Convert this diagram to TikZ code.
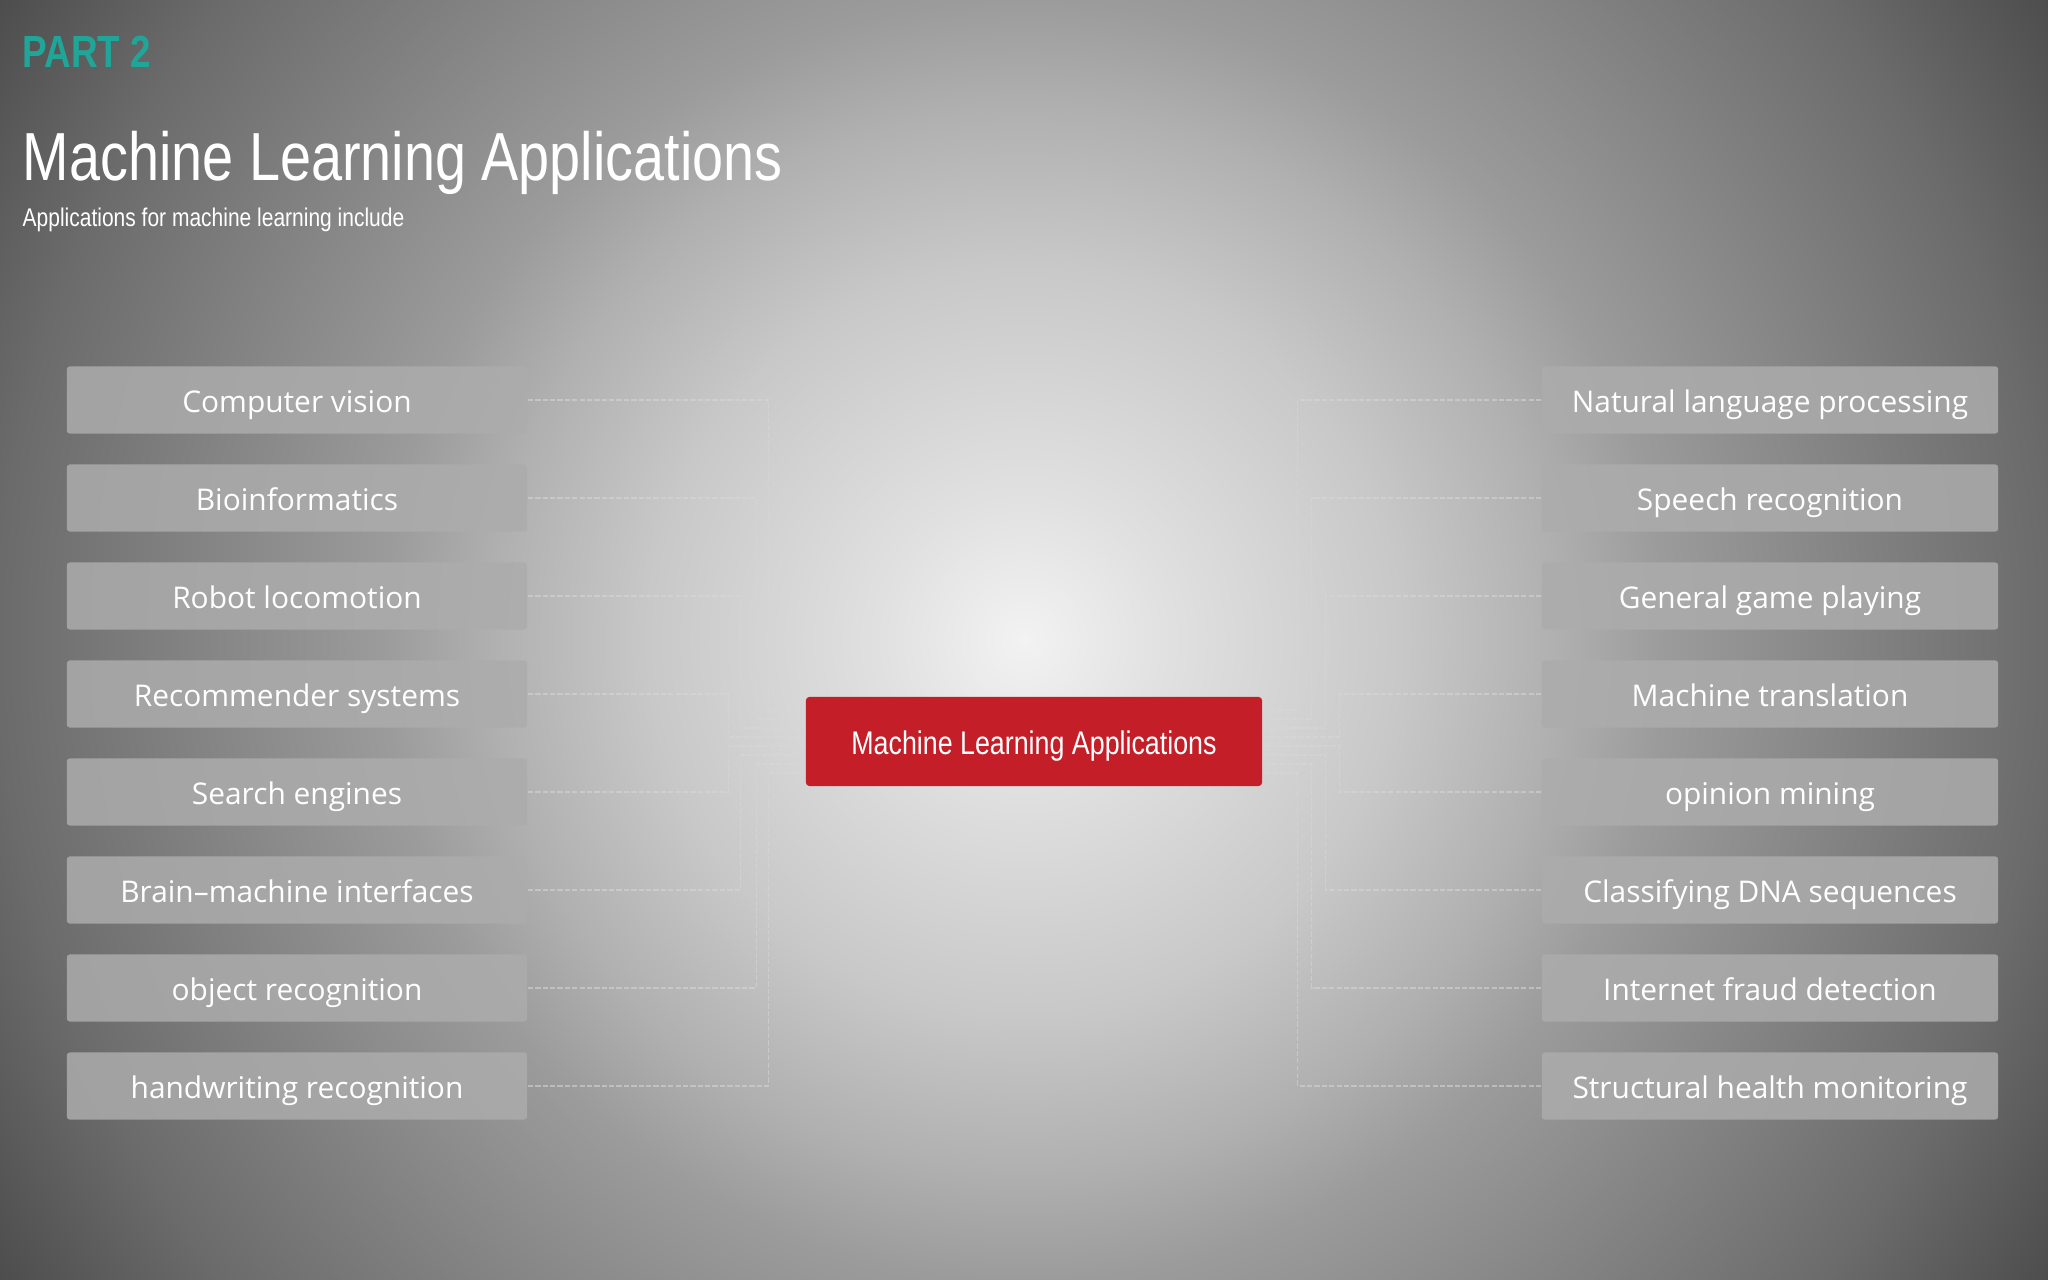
\documentclass[tikz,border=0pt]{standalone}
\usepackage{fontspec}
\setmainfont{Open Sans}
\newfontfamily\narrowfont[FakeStretch=0.82]{Liberation Sans}
\usetikzlibrary{calc}
\definecolor{teal2}{RGB}{32,166,152}
\definecolor{mlred}{RGB}{196,31,40}
\definecolor{boxgray}{RGB}{172,172,172}
\definecolor{connc}{RGB}{216,216,216}
\pgfdeclareradialshading{bgshade}{\pgfpoint{0bp}{0bp}}{%
rgb(0bp)=(0.95,0.95,0.95);
rgb(3bp)=(0.88,0.88,0.88);
rgb(7.75bp)=(0.785,0.785,0.785);
rgb(11bp)=(0.69,0.69,0.69);
rgb(13.2bp)=(0.61,0.61,0.61);
rgb(21.15bp)=(0.42,0.42,0.42);
rgb(25bp)=(0.30,0.30,0.30);
rgb(50bp)=(0.30,0.30,0.30)}
\tikzset{
  itembox/.style={fill=boxgray, fill opacity=0.85, text opacity=1, text=white,
    rounded corners=0.8pt, inner sep=0pt, minimum height=0.67cm,
    text height=0.25cm, text depth=0cm,
    font=\fontsize{8.5}{10}\selectfont},
  leftbox/.style={itembox, minimum width=4.6cm},
  rightbox/.style={itembox, minimum width=4.56cm},
  centerbox/.style={fill=mlred, text=white, rounded corners=1pt, inner sep=0pt,
    minimum width=4.56cm, minimum height=0.89cm,
    text height=0.27cm, text depth=0cm,
    font=\narrowfont\fontsize{9.3}{11}\selectfont},
  conn/.style={draw=connc, line width=0.35pt, dash pattern=on 1.5pt off 0.6pt, opacity=0.55},
  titletext/.style={inner sep=0pt, anchor=base west, text=white}
}
\begin{document}
\begin{tikzpicture}[x=0.01cm,y=-0.01cm]
\useasboundingbox (0,0) rectangle (2048,1280);
\begin{scope}
\clip (0,0) rectangle (2048,1280);
\shade[shading=bgshade] (-186,-570) rectangle (2234,1850);
\end{scope}

\node[titletext, text=teal2, font=\narrowfont\bfseries\fontsize{12.8}{14}\selectfont] (part) at (22,68) {PART 2};
\node[titletext, font=\narrowfont\fontsize{19.35}{22}\selectfont] (title) at (22,181) {Machine Learning Applications};
\node[titletext, font=\narrowfont\fontsize{7.28}{9}\selectfont] (sub) at (22,227) {Applications for machine learning include};

\node[centerbox] (C) at (1034,741.5) {Machine Learning Applications};

\node[leftbox] (L1) at (297,400) {Computer vision};
\node[leftbox] (L2) at (297,498) {Bioinformatics};
\node[leftbox] (L3) at (297,596) {Robot locomotion};
\node[leftbox] (L4) at (297,694) {Recommender systems};
\node[leftbox] (L5) at (297,792) {Search engines};
\node[leftbox] (L6) at (297,890) {Brain–machine interfaces};
\node[leftbox] (L7) at (297,988) {object recognition};
\node[leftbox] (L8) at (297,1086) {handwriting recognition};

\node[rightbox] (R1) at (1770,400) {Natural language processing};
\node[rightbox] (R2) at (1770,498) {Speech recognition};
\node[rightbox] (R3) at (1770,596) {General game playing};
\node[rightbox] (R4) at (1770,694) {Machine translation};
\node[rightbox] (R5) at (1770,792) {opinion mining};
\node[rightbox] (R6) at (1770,890) {Classifying DNA sequences};
\node[rightbox] (R7) at (1770,988) {Internet fraud detection};
\node[rightbox] (R8) at (1770,1086) {Structural health monitoring};

\foreach \k/\dy/\dxl/\dxr in {1/-31.5/-37/35, 2/-22.5/-49/49, 3/-13.5/-65/63, 4/-4.5/-77/77,
                               5/4.5/-77/77, 6/13.5/-65/63, 7/22.5/-49/49, 8/31.5/-37/35}{
  \draw[conn] (L\k.east) -| ($(C.west)+(\dxl,\dy)$) -- ($(C.west)+(0,\dy)$);
  \draw[conn] (R\k.west) -| ($(C.east)+(\dxr,\dy)$) -- ($(C.east)+(0,\dy)$);
}
\end{tikzpicture}
\end{document}
